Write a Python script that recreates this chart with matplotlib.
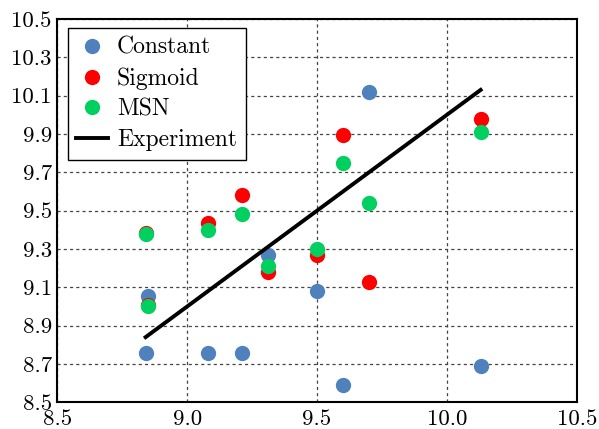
import numpy as np
import matplotlib
matplotlib.use('Agg')
import matplotlib.pyplot as plt
from matplotlib.ticker import FormatStrFormatter

plt.rcParams['font.family'] = 'cmr10'
plt.rcParams['axes.formatter.use_mathtext'] = True

# values
x = [8.84, 8.85, 9.08, 9.21, 9.31, 9.50, 9.60, 9.70, 10.13]
constant = [8.755, 9.055, 8.755, 8.755, 9.27, 9.08, 8.59, 10.12, 8.69]
sigmoid = [9.385, 9.01, 9.435, 9.58, 9.18, 9.27, 9.895, 9.13, 9.98]
msn = [9.38, 9.00, 9.40, 9.48, 9.21, 9.30, 9.75, 9.54, 9.91]
experiment = x

xticks = np.arange(8.5, 10.51, 0.5)
yticks = np.arange(8.5, 10.51, 0.2)

fig = plt.figure(figsize=(5.99, 4.29), dpi=100)
ax = fig.add_axes([0.0957, 0.0622, 0.8671, 0.8935])

ms = 11
ax.plot(x, constant, 'o', color='#4F81BD', ms=ms, mew=0, label='Constant', zorder=3)
ax.plot(x, sigmoid, 'o', color='#FF0000', ms=ms, mew=0, label='Sigmoid', zorder=3)
ax.plot(x, msn, 'o', color='#00D060', ms=ms, mew=0, label='MSN', zorder=3)
ax.plot(x, experiment, '-', color='black', lw=2.8, label='Experiment', zorder=4)

ax.set_xlim(8.5, 10.5)
ax.set_ylim(8.5, 10.5)
ax.set_xticks(xticks)
ax.set_yticks(yticks)
ax.xaxis.set_major_formatter(FormatStrFormatter('%.1f'))
ax.yaxis.set_major_formatter(FormatStrFormatter('%.1f'))
ax.tick_params(length=0, labelsize=16.5)
ax.tick_params(axis='x', pad=5)
ax.tick_params(axis='y', pad=4)

ax.grid(True, color='#444444', lw=0.9, linestyle=(0, (2.5, 2.5)), zorder=0)
ax.set_axisbelow(True)
for s in ax.spines.values():
    s.set_linewidth(1.5)

leg = ax.legend(loc='upper left', fontsize=17, fancybox=False, framealpha=1,
                edgecolor='black', labelspacing=0.36, handlelength=1.36,
                handletextpad=0.37, borderpad=0.36, borderaxespad=0,
                numpoints=1, bbox_to_anchor=(0.02, 0.976))
leg.get_frame().set_linewidth(1.0)

fig.savefig('out.png', dpi=100)
